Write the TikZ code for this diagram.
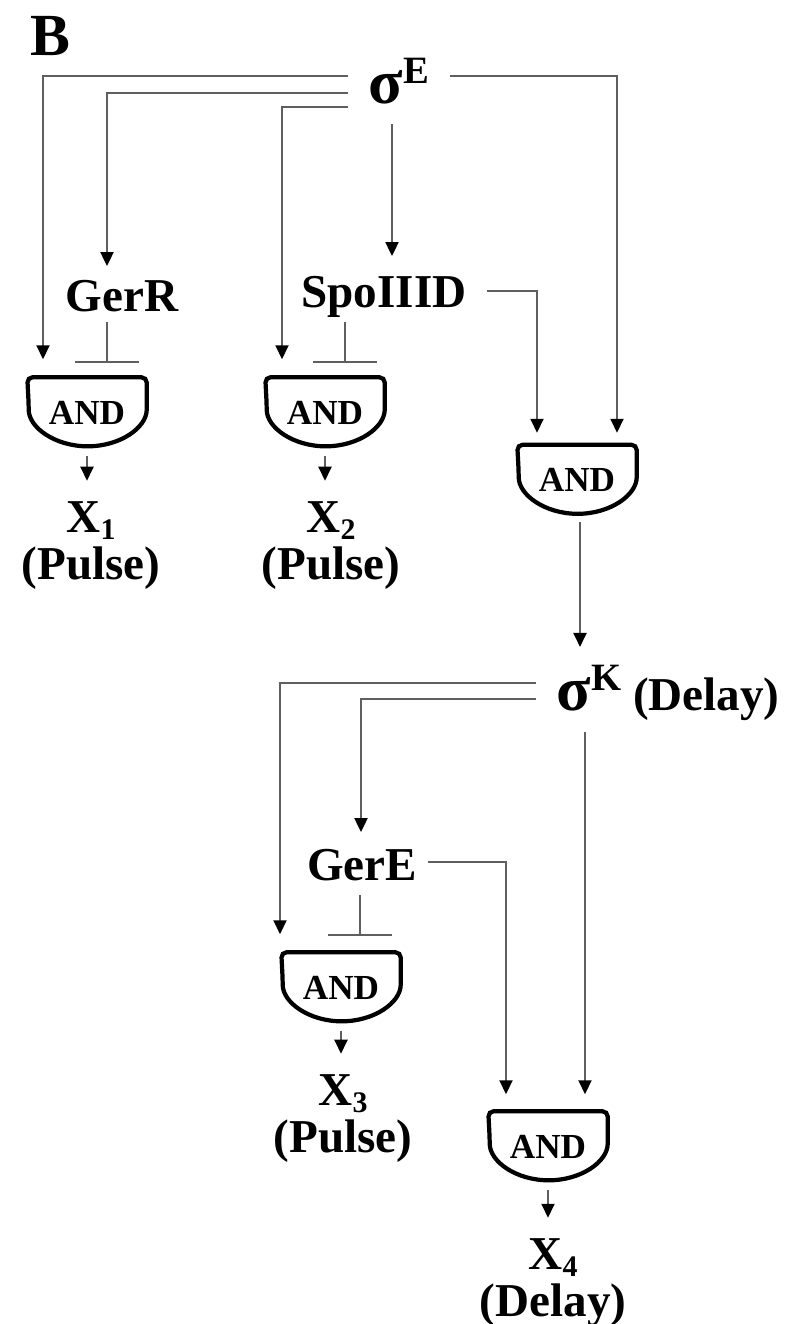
\documentclass[tikz,border=0pt]{standalone}
\usepackage{fontspec}
\setmainfont{Liberation Serif}
\usepackage{tikz}
\usetikzlibrary{arrows.meta,positioning}
\definecolor{LinkGray}{RGB}{95,95,95}

\newcommand{\sig}[1]{{\fontsize{18}{18}\selectfont σ}\raisebox{5.6pt}{\fontsize{11}{11}\selectfont #1}}
\newcommand{\low}[1]{\raisebox{-2pt}{\fontsize{8.5}{8.5}\selectfont #1}}

\begin{document}
\begin{tikzpicture}[x=0.01cm, y=-0.01cm,
    txt/.style={font=\bfseries\fontsize{13.4}{13.4}\selectfont, inner sep=0pt},
    gate/.style={minimum width=1.18cm, minimum height=0.69cm, inner sep=0pt, font=\bfseries\fontsize{10}{10}\selectfont},
    gatebody/.style={draw=black, line width=1.2pt, rounded corners=1.5pt},
    link/.style={draw=LinkGray, line width=0.55pt},
    act/.style={link, -{Triangle[width=0.13cm, length=0.14cm, color=black]}},
    inh/.style={link, -{Bar[width=0.64cm]}},
    outlink/.style={act, shorten <=0.08cm, shorten >=0.2cm}]
    \useasboundingbox (0,0) rectangle (791,1324);

    \node (panel) [txt, font=\bfseries\fontsize{17}{17}\selectfont, anchor=base west] at (30,55) {B};

    % upper cascade
    \node (sigE) [txt, inner xsep=0.2cm, inner ysep=0.2cm, anchor=base west] at (348,103) {\sig{E}};
    \node (GerR) [txt, anchor=base] at (122,311) {GerR};
    \node (SpoIIID) [txt, anchor=base] at (384,307) {SpoIIID};
    \node (and1) [gate] at (87,412.5) {AND};
    \node (and2) [gate] at (325,412.5) {AND};
    \node (and3) [gate] at (577,480) {AND};
    \node (X1) [txt, align=center, below=0.53cm of and1, xshift=0.04cm] {X\low{1}\\(Pulse)};
    \node (X2) [txt, align=center, below=0.53cm of and2, xshift=0.06cm] {X\low{2}\\(Pulse)};

    % lower cascade
    \node (sigK) [txt, inner xsep=0.2cm, inner ysep=0.2cm, anchor=base west] at (536,710) {\sig{K} (Delay)};
    \node (GerE) [txt, anchor=base] at (362,880) {GerE};
    \node (and4) [gate] at (341,987.5) {AND};
    \node (and5) [gate] at (548,1146.5) {AND};
    \node (X3) [txt, align=center, below=0.51cm of and4, xshift=0.02cm] {X\low{3}\\(Pulse)};
    \node (X4) [txt, align=center, below=0.56cm of and5, xshift=0.05cm] {X\low{4}\\(Delay)};

    % gate outlines
    \draw[gatebody] (and1.north west) -- (and1.north east) -- ++(0cm,-0.27cm) arc[start angle=0, end angle=-180, x radius=0.59cm, y radius=0.42cm] -- cycle;
    \draw[gatebody] (and2.north west) -- (and2.north east) -- ++(0cm,-0.27cm) arc[start angle=0, end angle=-180, x radius=0.59cm, y radius=0.42cm] -- cycle;
    \draw[gatebody] (and3.north west) -- (and3.north east) -- ++(0cm,-0.27cm) arc[start angle=0, end angle=-180, x radius=0.59cm, y radius=0.42cm] -- cycle;
    \draw[gatebody] (and4.north west) -- (and4.north east) -- ++(0cm,-0.27cm) arc[start angle=0, end angle=-180, x radius=0.59cm, y radius=0.42cm] -- cycle;
    \draw[gatebody] (and5.north west) -- (and5.north east) -- ++(0cm,-0.27cm) arc[start angle=0, end angle=-180, x radius=0.59cm, y radius=0.42cm] -- cycle;

    % sigma E
    \draw[act, shorten >=0.18cm] (sigE.west |- 0,76) -| (43,0 |- and1.north);
    \draw[act, shorten >=0.13cm] (sigE.west |- 0,93) -| (107,0 |- GerR.north);
    \draw[act, shorten >=0.18cm] (sigE.west |- 0,107) -| (282,0 |- and2.north);
    \draw[act, shorten >=0.12cm] (sigE.east |- 0,76) -| (617,0 |- and3.north);
    \draw[act, shorten >=0.19cm] (392,0 |- sigE.south) -- (392,0 |- SpoIIID.north);
    \draw[inh, shorten <=0.11cm, shorten >=0.14cm] (107,0 |- GerR.base) -- (107,0 |- and1.north);
    \draw[inh, shorten <=0.15cm, shorten >=0.14cm] (345,0 |- SpoIIID.base) -- (345,0 |- and2.north);
    \draw[act, shorten >=0.12cm] ([xshift=0.2cm, yshift=0.16cm]SpoIIID.base east) -| (537,0 |- and3.north);
    \draw[act, shorten <=0.07cm, shorten >=0.63cm] (580,0 |- and3.south) -- (580,0 |- sigK.base);

    % sigma K
    \draw[act, shorten >=0.18cm] (sigK.west |- 0,683) -| (280,0 |- and4.north);
    \draw[act, shorten >=0.16cm] (sigK.west |- 0,699) -| (361,0 |- GerE.north);
    \draw[act, shorten <=0.22cm, shorten >=0.17cm] (585,0 |- sigK.base) -- (585,0 |- and5.north);
    \draw[inh, shorten <=0.15cm, shorten >=0.16cm] (360,0 |- GerE.base) -- (360,0 |- and4.north);
    \draw[act, shorten >=0.17cm] ([xshift=0.1cm, yshift=0.18cm]GerE.base east) -| (506,0 |- and5.north);

    % outputs
    \draw[outlink] (and1.south) -- (and1.south |- X1.north);
    \draw[outlink] (and2.south) -- (and2.south |- X2.north);
    \draw[outlink] (and4.south) -- (and4.south |- X3.north);
    \draw[outlink] (and5.south) -- (and5.south |- X4.north);
\end{tikzpicture}
\end{document}
